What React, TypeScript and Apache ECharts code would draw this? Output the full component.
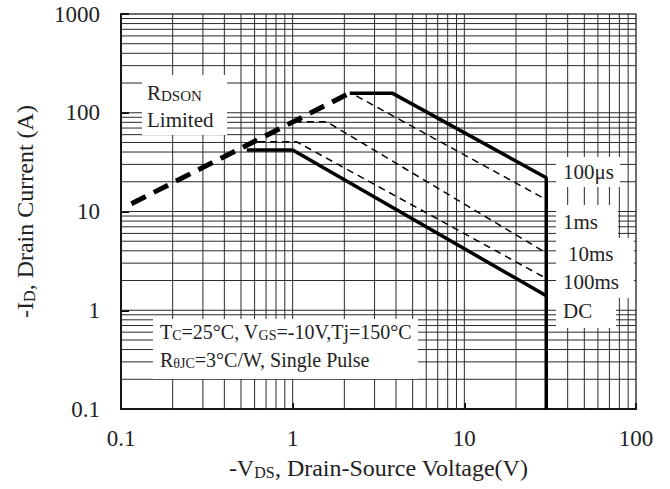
import React, { useEffect, useRef } from "react";
import * as echarts from "echarts";

const FONT = "'Liberation Serif', 'DejaVu Serif', serif";

// Axis ranges and tick labels
const xRange = [0.1, 100];
const yRange = [0.1, 1000];
const xTickLabels = ["0.1", "1", "10", "100"];
const yTickLabels = ["0.1", "1", "10", "100", "1000"];

// Grid line positions (decade x 1..9)
const gridMultipliers = [1, 2, 3, 4, 5, 6, 7, 8, 9];
const xDecades = [0.1, 1, 10];
const yDecades = [0.1, 1, 10, 100];

// Curves [Vds, Id]
const rdsonLimit = [
  [0.115, 12],
  [2.15, 158],
];
const pulse100us = [
  [2.15, 158],
  [3.8, 158],
  [30, 22],
  [30, 0.1],
];
const pulse1ms = [
  [2.35, 148],
  [30, 13.2],
];
const pulse10ms = [
  [1.03, 81],
  [1.58, 81],
  [30, 3.8],
];
const pulse100ms = [
  [0.63, 51],
  [1.05, 51],
  [30, 2.1],
];
const dcLine = [
  [0.54, 42],
  [1.0, 42],
  [30, 1.4],
];

const xGrid = [...xDecades.flatMap((d) => gridMultipliers.map((m) => m * d)), xRange[1]];
const yGrid = [...yDecades.flatMap((d) => gridMultipliers.map((m) => m * d)), yRange[1]];

function boxText(text: string, x: number, y: number, size = 20) {
  return {
    type: "text",
    z: 60,
    style: {
      text,
      x,
      y,
      fontFamily: FONT,
      fontSize: size,
      fill: "#222",
      align: "left",
      verticalAlign: "middle",
      rich: {
        s: { fontFamily: FONT, fontSize: Math.round(size * 0.7), fill: "#222", verticalAlign: "bottom" },
      },
    },
  };
}

function whiteRect(x: number, y: number, width: number, height: number) {
  return {
    type: "rect",
    z: 50,
    shape: { x, y, width, height },
    style: { fill: "#fff" },
  };
}

const tickFormatter = (labels: string[]) => (v: number) =>
  labels.find((t) => Math.abs(parseFloat(t) - v) < 1e-9 * Math.max(1, v)) ?? "";

export default function App() {
  const ref = useRef<HTMLDivElement>(null);
  useEffect(() => {
    if (!ref.current) return;
    const chart = echarts.init(ref.current, null, { renderer: "svg" });
    const solid = (w: number) => ({ color: "#000", width: w, type: "solid" as const });
    const thinDash = { color: "#000", width: 1.5, type: [7, 5] };
    const gridLine = (x1: number, y1: number, x2: number, y2: number) => ({
      type: "line",
      shape: { x1, y1, x2, y2 },
      style: { stroke: "#2a2a2a", lineWidth: 1 },
    });
    const nameStyle = {
      fontFamily: FONT,
      fontSize: 24,
      color: "#222",
      rich: { s: { fontFamily: FONT, fontSize: 16, color: "#222", verticalAlign: "bottom" } },
    };
    const option: any = {
      animation: false,
      backgroundColor: "#fff",
      grid: {
        left: 121,
        top: 14,
        right: 34,
        bottom: 80,
        show: true,
        borderColor: "#9a9a9a",
        borderWidth: 1.5,
      },
      xAxis: {
        type: "log",
        logBase: 10,
        min: xRange[0],
        max: xRange[1],
        axisLine: { show: true, lineStyle: { color: "#000", width: 2 } },
        axisTick: { show: true, inside: true, length: 6, lineStyle: { color: "#000", width: 2 } },
        axisLabel: {
          fontFamily: FONT,
          fontSize: 23,
          color: "#222",
          margin: 18,
          formatter: tickFormatter(xTickLabels),
        },
        splitLine: { show: false },
        name: "-V{s|DS}, Drain-Source Voltage(V)",
        nameLocation: "middle",
        nameGap: 47,
        nameTextStyle: nameStyle,
      },
      yAxis: {
        type: "log",
        logBase: 10,
        min: yRange[0],
        max: yRange[1],
        axisLine: { show: true, lineStyle: { color: "#000", width: 2 } },
        axisTick: { show: true, inside: true, length: 8, lineStyle: { color: "#000", width: 2 } },
        axisLabel: {
          fontFamily: FONT,
          fontSize: 23,
          color: "#222",
          margin: 21,
          formatter: tickFormatter(yTickLabels),
        },
        splitLine: { show: false },
        name: "-I{s|D}, Drain Current (A)",
        nameLocation: "middle",
        nameGap: 84,
        nameTextStyle: nameStyle,
      },
      series: [
        {
          type: "custom",
          name: "vgrid",
          silent: true,
          z: 1,
          data: xGrid.map((v) => [v, 1]),
          renderItem: (_p: any, api: any) => {
            const v = api.value(0);
            const a = api.coord([v, yRange[0]]);
            const b = api.coord([v, yRange[1]]);
            return gridLine(a[0], a[1], b[0], b[1]);
          },
        },
        {
          type: "custom",
          name: "hgrid",
          silent: true,
          z: 1,
          data: yGrid.map((v) => [1, v]),
          renderItem: (_p: any, api: any) => {
            const v = api.value(1);
            const a = api.coord([xRange[0], v]);
            const b = api.coord([xRange[1], v]);
            return gridLine(a[0], a[1], b[0], b[1]);
          },
        },
        {
          type: "line",
          name: "RDSON Limited",
          z: 5,
          symbol: "none",
          data: rdsonLimit,
          lineStyle: { color: "#000", width: 5, type: [16, 9] },
        },
        { type: "line", name: "100μs", z: 5, symbol: "none", data: pulse100us, lineStyle: solid(3.5) },
        { type: "line", name: "1ms", z: 5, symbol: "none", data: pulse1ms, lineStyle: thinDash },
        { type: "line", name: "10ms", z: 5, symbol: "none", data: pulse10ms, lineStyle: thinDash },
        { type: "line", name: "100ms", z: 5, symbol: "none", data: pulse100ms, lineStyle: thinDash },
        { type: "line", name: "DC", z: 5, symbol: "none", data: dcLine, lineStyle: solid(3.5) },
      ],
      graphic: [
        whiteRect(142, 75, 85, 60),
        boxText("R{s|DSON}", 147, 93, 21),
        boxText("Limited", 147, 120, 21),
        whiteRect(153, 319, 265, 60),
        boxText("T{s|C}=25°C, V{s|GS}=-10V,Tj=150°C", 160, 332, 20),
        boxText("R{s|θJC}=3°C/W, Single Pulse", 160, 360, 20),
        whiteRect(556, 157, 64, 30),
        boxText("100μs", 563, 172, 21),
        whiteRect(556, 205, 62, 33),
        boxText("1ms", 563, 222, 21),
        whiteRect(556, 238, 78, 60),
        boxText("10ms", 568, 254, 21),
        boxText("100ms", 563, 282, 21),
        whiteRect(556, 298, 60, 30),
        boxText("DC", 563, 311, 21),
      ],
    };
    chart.setOption(option);
    return () => chart.dispose();
  }, []);
  return <div ref={ref} style={{ width: 670, height: 489, position: "absolute", left: 0, top: 0 }} />;
}
